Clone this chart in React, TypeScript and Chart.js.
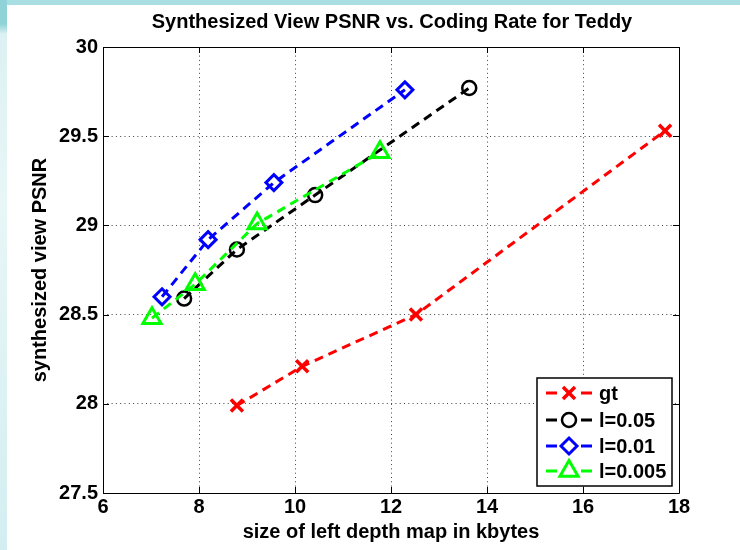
import React, { useEffect, useRef } from "react";
import { Chart, registerables } from "chart.js";
import { drawPoint } from "chart.js/helpers";

Chart.register(...registerables);

const titleText = "Synthesized View PSNR vs. Coding Rate for Teddy";
const xLabel = "size of left depth map in kbytes";
const yLabel = "synthesized view PSNR";

const xTicks = [6, 8, 10, 12, 14, 16, 18];
const yTicks = [27.5, 28, 28.5, 29, 29.5, 30];

const seriesNames = ["gt", "l=0.05", "l=0.01", "l=0.005"];

const gtX = [8.79, 10.15, 12.52, 17.71];
const gtY = [27.99, 28.21, 28.5, 29.53];

const l05X = [7.69, 8.79, 10.42, 13.63];
const l05Y = [28.59, 28.865, 29.17, 29.77];

const l01X = [7.23, 8.19, 9.56, 12.29];
const l01Y = [28.6, 28.92, 29.24, 29.76];

const l005X = [7.02, 7.92, 9.21, 11.77];
const l005Y = [28.48, 28.67, 29.01, 29.41];

const FONT = "'Liberation Sans', Arial, Helvetica, sans-serif";

const styles = [
  { color: "#ff0000", pointStyle: "crossRot", radius: 8.5, bw: 3.5 },
  { color: "#000000", pointStyle: "circle", radius: 7, bw: 2.5 },
  { color: "#0000ff", pointStyle: "rectRot", radius: 8, bw: 3 },
  { color: "#00ff00", pointStyle: "triangle", radius: 10.5, bw: 3 },
];

function zip(xs: number[], ys: number[]) {
  return xs.map((x, i) => ({ x, y: ys[i] }));
}

const frameTicksPlugin = {
  id: "frameTicks",
  afterDraw(chart: any) {
    const { ctx, chartArea } = chart;
    const { left, right, top, bottom } = chartArea;
    const xs = chart.scales.x;
    const ys = chart.scales.y;
    ctx.save();
    ctx.fillStyle = "#000";
    ctx.font = `bold 20px ${FONT}`;
    ctx.textAlign = "center";
    ctx.textBaseline = "middle";
    ctx.fillText(titleText, (left + right) / 2 + 1, 22);

    ctx.strokeStyle = "#000";
    ctx.lineWidth = 1;
    ctx.setLineDash([]);
    ctx.beginPath();
    ctx.rect(left + 0.5, top + 0.5, right - left, bottom - top);
    ctx.stroke();
    const tl = 6;
    ctx.beginPath();
    xTicks.forEach((v) => {
      const px = Math.round(xs.getPixelForValue(v)) + 0.5;
      ctx.moveTo(px, bottom);
      ctx.lineTo(px, bottom - tl);
      ctx.moveTo(px, top);
      ctx.lineTo(px, top + tl);
    });
    yTicks.forEach((v) => {
      const py = Math.round(ys.getPixelForValue(v)) + 0.5;
      ctx.moveTo(left, py);
      ctx.lineTo(left + tl, py);
      ctx.moveTo(right, py);
      ctx.lineTo(right - tl, py);
    });
    ctx.stroke();
    ctx.restore();
  },
};

const legendPlugin = {
  id: "boxLegend",
  afterDraw(chart: any) {
    const { ctx } = chart;
    const bx = 537, by = 378, bw = 135, bh = 108;
    ctx.save();
    ctx.fillStyle = "#fff";
    ctx.fillRect(bx, by, bw, bh);
    ctx.strokeStyle = "#000";
    ctx.lineWidth = 1.5;
    ctx.setLineDash([]);
    ctx.strokeRect(bx, by, bw, bh);
    const rows = [393, 420, 446, 471];
    chart.data.datasets.forEach((ds: any, i: number) => {
      const st = styles[i];
      const y = rows[i];
      ctx.strokeStyle = st.color;
      ctx.lineWidth = 3;
      ctx.setLineDash([]);
      ctx.beginPath();
      ctx.moveTo(546, y);
      ctx.lineTo(557, y);
      ctx.moveTo(581, y);
      ctx.lineTo(592, y);
      ctx.stroke();
      ctx.fillStyle = "rgba(0,0,0,0)";
      ctx.lineWidth = st.bw;
      drawPoint(ctx, { pointStyle: st.pointStyle, radius: st.radius, rotation: 0, borderWidth: st.bw } as any, 569, y);
      ctx.fillStyle = "#000";
      ctx.font = `bold 20px ${FONT}`;
      ctx.textAlign = "left";
      ctx.textBaseline = "middle";
      ctx.fillText(ds.label, 599, y + 1);
    });
    ctx.restore();
  },
};

export default function App() {
  const ref = useRef<HTMLCanvasElement | null>(null);

  useEffect(() => {
    if (!ref.current) return;
    const seriesData = [zip(gtX, gtY), zip(l05X, l05Y), zip(l01X, l01Y), zip(l005X, l005Y)];
    const orders = [4, 3, 2, 1];
    const chart = new Chart(ref.current, {
      type: "line",
      data: {
        datasets: seriesData.map((d, i) => ({
          label: seriesNames[i],
          data: d,
          borderColor: styles[i].color,
          backgroundColor: "rgba(0,0,0,0)",
          borderWidth: 3,
          borderDash: [9, 6],
          pointStyle: styles[i].pointStyle as any,
          pointRadius: styles[i].radius,
          pointBorderWidth: styles[i].bw,
          pointBorderColor: styles[i].color,
          pointBackgroundColor: "rgba(0,0,0,0)",
          tension: 0,
          fill: false,
          order: orders[i],
          clip: false as any,
        })),
      },
      options: {
        animation: false,
        responsive: false,
        events: [],
        layout: { padding: { left: 0, right: 61, top: 47, bottom: 0 } },
        plugins: {
          legend: { display: false },
          tooltip: { enabled: false },
          title: { display: false },
        },
        scales: {
          x: {
            type: "linear",
            min: 6,
            max: 18,
            afterBuildTicks: (s: any) => {
              s.ticks = xTicks.map((v) => ({ value: v }));
            },
            afterFit: (s: any) => {
              s.height = 57;
            },
            ticks: {
              color: "#000",
              font: { family: FONT, size: 20, weight: "bold" },
              padding: 2,
              maxRotation: 0,
              autoSkip: false,
              callback: (v: any) => String(v),
            },
            grid: {
              color: "rgba(0,0,0,0.75)",
              lineWidth: 1,
              drawTicks: false,
            },
            border: { display: false, dash: [1, 3.3] },
            title: {
              display: true,
              text: xLabel,
              color: "#000",
              font: { family: FONT, size: 20, weight: "bold" },
              padding: { top: 0, bottom: 6 },
            },
          },
          y: {
            type: "linear",
            min: 27.5,
            max: 30,
            afterBuildTicks: (s: any) => {
              s.ticks = yTicks.map((v) => ({ value: v }));
            },
            afterFit: (s: any) => {
              s.width = 103;
            },
            ticks: {
              color: "#000",
              font: { family: FONT, size: 20, weight: "bold" },
              padding: 5,
              autoSkip: false,
              callback: (v: any) => String(v),
            },
            grid: {
              color: "rgba(0,0,0,0.75)",
              lineWidth: 1,
              drawTicks: false,
            },
            border: { display: false, dash: [1, 3.3] },
            title: {
              display: true,
              text: yLabel,
              color: "#000",
              font: { family: FONT, size: 20, weight: "bold" },
              padding: { top: 28, bottom: 0 },
            },
          },
        },
      },
      plugins: [frameTicksPlugin, legendPlugin],
    } as any);
    return () => chart.destroy();
  }, []);

  return (
    <div style={{ position: "fixed", left: 0, top: 0, width: 740, height: 550, background: "#fff", overflow: "hidden" }}>
      <div style={{ position: "absolute", left: 0, top: 0, width: 740, height: 5, background: "#a9dee2" }} />
      <div
        style={{
          position: "absolute",
          left: 0,
          top: 0,
          width: 7,
          height: 550,
          background: "linear-gradient(to bottom, #8fd3d8 0px, #8fd3d8 24px, #dcf1f3 34px, #e8f6f7 200px, #d3eef1 550px)",
        }}
      />
      <canvas ref={ref} width={740} height={550} style={{ position: "absolute", left: 0, top: 0, width: 740, height: 550 }} />
    </div>
  );
}
